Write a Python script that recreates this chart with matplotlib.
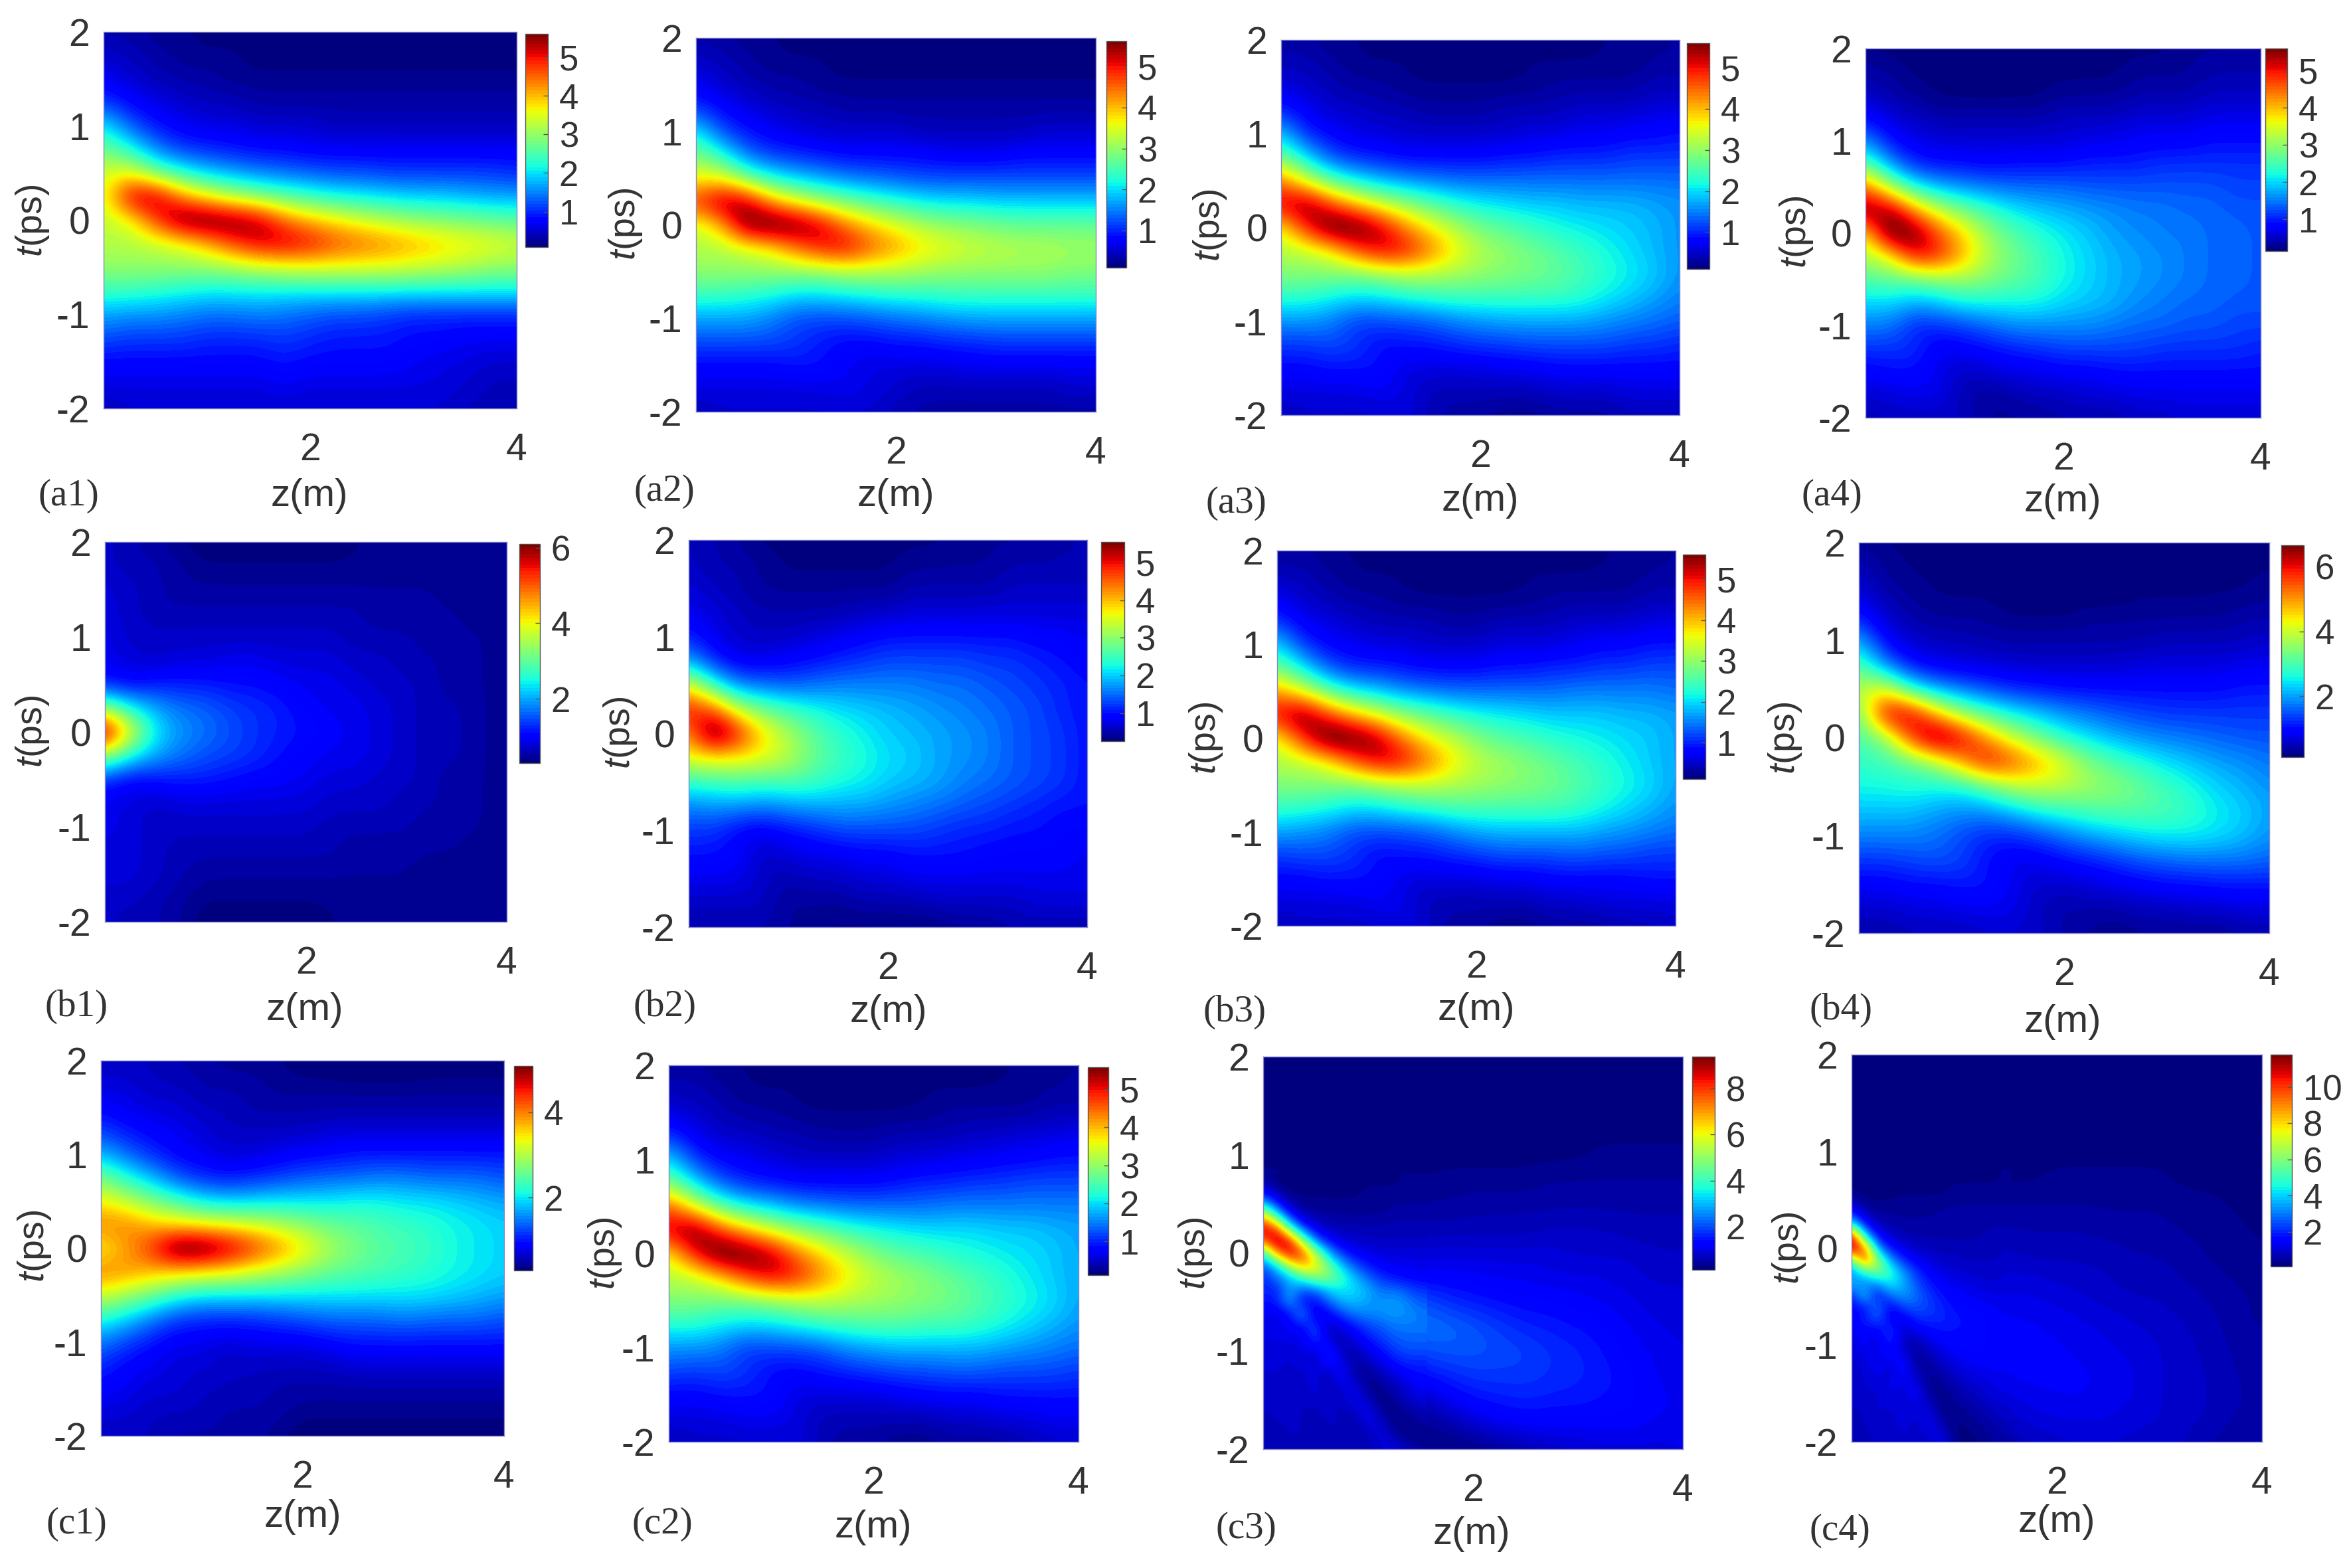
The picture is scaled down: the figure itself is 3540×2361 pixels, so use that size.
import numpy as np
import matplotlib
matplotlib.use("agg")
import matplotlib.pyplot as plt
from matplotlib.cm import ScalarMappable
from matplotlib.colors import Normalize

plt.rcParams['font.family'] = 'Liberation Sans'
plt.rcParams['mathtext.fontset'] = 'custom'
plt.rcParams['mathtext.it'] = 'Liberation Sans:italic'
plt.rcParams['mathtext.rm'] = 'Liberation Sans'
plt.rcParams['text.color'] = '#333333'
plt.rcParams['axes.unicode_minus'] = False

W, H = 3540, 2361

# every panel: rows t = 2 ... -2, columns z = 0 ... 4, both in steps of 0.25
a1 = [[.3,.3,.2,.2,.1,.1,.1,.1,.1,.1,.1,.1,.1,.1,.1,.1,.1],
      [.5,.4,.3,.2,.2,.2,.1,.1,.1,.1,.1,.1,.1,.1,.1,.1,.1],
      [.7,.5,.4,.3,.3,.2,.2,.2,.2,.2,.2,.2,.2,.2,.2,.2,.2],
      [1.1,.8,.6,.5,.4,.4,.3,.3,.3,.3,.3,.3,.3,.3,.3,.3,.3],
      [2.1,1.3,.9,.7,.6,.6,.5,.5,.5,.4,.4,.4,.4,.4,.4,.4,.4],
      [2.8,2.3,1.5,1.1,1,.9,.8,.8,.7,.7,.7,.7,.7,.7,.7,.7,.7],
      [3.4,3.6,2.8,2.3,1.9,1.7,1.5,1.4,1.3,1.2,1.2,1.1,1.1,1.1,1.1,1.1,1],
      [3.4,5.3,5.5,4.3,3.7,3.2,2.9,2.6,2.4,2.2,2.1,2,1.9,1.9,1.8,1.7,1.7],
      [3.3,3.5,4.7,5.8,5.9,5.7,5.4,4.5,4,3.7,3.4,3.2,3,2.9,2.8,2.7,2.6],
      [3.2,3.2,3.3,3.5,4,4.7,5.2,5.3,5.1,4.7,4.5,4.3,4.1,3.9,3.7,3.6,3.4],
      [3,3,3,3,3,3.1,3.3,3.4,3.5,3.5,3.5,3.5,3.4,3.3,3.2,3,3],
      [2.4,2.4,2.3,2.2,2.1,2.1,2.1,2.1,2.1,2.1,2.1,2.1,2.1,2.1,2.1,2.1,2.1],
      [1.7,1.6,1.6,1.5,1.4,1.4,1.5,1.4,1.3,1.2,1.2,1.1,1,1,1,1,1],
      [1.2,1.1,1.1,1.1,1,1,1,1.1,1,.9,.9,.9,.8,.8,.7,.7,.7],
      [.8,.8,.8,.8,.8,.8,.8,.9,.8,.8,.8,.8,.7,.6,.6,.5,.5],
      [.6,.6,.6,.6,.6,.6,.6,.7,.6,.6,.6,.6,.6,.6,.5,.4,.4],
      [.4,.5,.5,.5,.5,.5,.5,.5,.5,.5,.5,.5,.5,.5,.4,.4,.3]]
a2 = [[.3,.3,.2,.2,.1,.1,.1,.1,.1,.1,.1,.1,.1,.1,.1,.1,.1],
      [.5,.4,.3,.2,.2,.2,.1,.1,.1,.1,.1,.1,.1,.1,.1,.1,.1],
      [.7,.5,.4,.3,.3,.2,.2,.2,.2,.2,.2,.2,.2,.2,.2,.2,.2],
      [1.1,.8,.6,.5,.4,.4,.3,.3,.3,.3,.3,.3,.3,.3,.3,.3,.3],
      [2.1,1.2,.9,.7,.6,.5,.5,.5,.5,.4,.4,.4,.4,.4,.5,.5,.5],
      [2.9,2.3,1.4,1.1,1,.9,.8,.8,.8,.8,.7,.7,.7,.8,.8,.8,.8],
      [3.6,3.6,2.8,2.2,1.9,1.7,1.5,1.4,1.3,1.2,1.2,1.2,1.2,1.2,1.2,1.2,1.2],
      [4.8,5.6,5.4,4.2,3.6,3.1,2.8,2.5,2.3,2.1,2,2,1.9,1.9,1.9,1.9,1.9],
      [3.4,4,5.8,6,5.8,5.3,4.4,3.9,3.5,3.2,3,2.9,2.8,2.7,2.7,2.7,2.7],
      [3.2,3.2,3.4,3.7,4.4,5,5.2,4.6,4.2,3.8,3.6,3.4,3.3,3.2,3.2,3.1,3.1],
      [3,3,3,3,3,3,3.2,3.2,3.2,3.1,3,3,3,3,3,2.9,2.9],
      [2.4,2.4,2.3,2.2,2,2,2.1,2.2,2.3,2.3,2.4,2.4,2.4,2.4,2.4,2.4,2.4],
      [1.7,1.7,1.7,1.5,1.2,1.2,1.2,1.3,1.4,1.5,1.6,1.7,1.7,1.7,1.7,1.7,1.7],
      [1.2,1.2,1.2,1.2,1.1,.9,.8,.8,.9,.9,1,1,1.1,1.1,1.1,1.1,1.1],
      [.8,.8,.8,.8,.9,.9,.7,.6,.6,.6,.6,.7,.7,.7,.7,.7,.7],
      [.6,.6,.6,.6,.6,.6,.7,.6,.5,.4,.4,.4,.4,.4,.4,.5,.5],
      [.4,.5,.5,.5,.5,.5,.5,.5,.4,.3,.3,.3,.3,.3,.3,.3,.3]]
a3 = [[.3,.3,.2,.2,.1,.1,.1,.1,.1,.1,.1,.1,.1,.2,.2,.2,.3],
      [.4,.4,.3,.2,.2,.2,.1,.1,.1,.1,.2,.2,.2,.2,.2,.3,.3],
      [.6,.5,.4,.3,.3,.2,.2,.2,.2,.2,.2,.3,.3,.3,.3,.4,.4],
      [1,.7,.5,.5,.4,.4,.3,.3,.3,.4,.4,.4,.5,.5,.5,.6,.6],
      [1.9,1,.8,.6,.6,.5,.5,.5,.5,.5,.6,.6,.7,.7,.8,.8,.9],
      [2.8,2,1.2,1,.9,.8,.8,.8,.8,.9,.9,1,1,1,1.1,1.1,1.1],
      [4.4,3.4,2.6,2.1,1.8,1.6,1.5,1.4,1.4,1.4,1.4,1.4,1.4,1.4,1.4,1.4,1.4],
      [5.2,5.7,4.7,4,3.4,3,2.6,2.3,2.1,2,1.9,1.9,1.8,1.8,1.8,1.7,1.6],
      [3.6,4.9,6,5.9,5.3,4.3,3.7,3.2,2.8,2.6,2.4,2.2,2.1,2,1.9,1.8,1.6],
      [3.2,3.3,3.6,4.6,5.2,5.1,4.4,3.7,3.2,3,2.8,2.6,2.4,2.2,2,1.8,1.6],
      [2.9,2.9,2.9,2.8,3,3.2,3.2,3.1,3,2.9,2.8,2.7,2.5,2.3,2.1,1.9,1.6],
      [2.3,2.3,2.1,2,2,2.2,2.3,2.4,2.4,2.4,2.4,2.4,2.3,2.1,1.9,1.7,1.5],
      [1.6,1.6,1.5,1.1,1.2,1.2,1.3,1.5,1.6,1.7,1.7,1.7,1.7,1.6,1.5,1.4,1.3],
      [1.1,1.1,1.2,1.1,.8,.9,.9,1,1.1,1.1,1.2,1.2,1.2,1.2,1.1,1.1,1],
      [.8,.8,.9,.9,.9,.6,.6,.6,.6,.7,.7,.8,.8,.8,.8,.8,.8],
      [.6,.6,.6,.6,.7,.6,.4,.4,.4,.4,.4,.5,.5,.5,.6,.6,.6],
      [.4,.5,.5,.5,.5,.6,.4,.3,.3,.2,.2,.3,.3,.3,.4,.4,.4]]
a4 = [[.2,.2,.2,.1,.1,.1,.1,.1,.1,.2,.2,.2,.2,.3,.3,.3,.3],
      [.4,.3,.2,.2,.1,.1,.1,.2,.2,.2,.2,.3,.3,.3,.4,.4,.4],
      [.5,.4,.3,.2,.2,.2,.2,.2,.3,.3,.3,.4,.4,.4,.5,.5,.5],
      [.9,.6,.5,.4,.4,.4,.4,.4,.5,.5,.5,.6,.6,.6,.7,.7,.7],
      [1.6,.9,.7,.6,.6,.6,.6,.6,.6,.7,.7,.8,.8,.8,.9,.9,.9],
      [2.7,1.6,1,.9,.9,.8,.9,.9,.9,1,1,1,1.1,1.1,1.1,1.1,1.1],
      [4.5,3.2,2.2,1.8,1.6,1.5,1.4,1.4,1.4,1.3,1.3,1.3,1.3,1.3,1.3,1.2,1.2],
      [5.6,5.5,4.2,3.3,2.8,2.4,2.1,1.9,1.8,1.7,1.6,1.5,1.5,1.4,1.4,1.3,1.3],
      [3.7,6,5.7,4.6,3.8,3,2.6,2.3,2.1,1.9,1.7,1.6,1.5,1.5,1.4,1.4,1.3],
      [3.2,3.6,5.1,4.9,4,3.2,2.8,2.5,2.2,2,1.8,1.7,1.6,1.5,1.4,1.4,1.3],
      [2.6,2.7,2.7,3,3.1,2.9,2.7,2.5,2.2,2,1.8,1.7,1.6,1.5,1.4,1.4,1.3],
      [2,2,1.8,1.9,2.2,2.2,2.2,2.2,2,1.9,1.8,1.6,1.5,1.4,1.4,1.3,1.3],
      [1.5,1.5,1,1.1,1.2,1.4,1.6,1.6,1.6,1.6,1.5,1.4,1.4,1.3,1.3,1.2,1.2],
      [1.1,1.1,1.1,.7,.8,.9,1,1.1,1.2,1.2,1.2,1.2,1.1,1.1,1.1,1.1,1],
      [.8,.9,.9,.7,.5,.6,.7,.7,.8,.8,.9,.9,.9,.9,.9,.9,.9],
      [.6,.6,.7,.7,.4,.3,.4,.5,.5,.6,.6,.7,.7,.7,.7,.7,.7],
      [.4,.5,.5,.5,.5,.3,.3,.3,.4,.4,.4,.5,.5,.6,.6,.6,.6]]
b1 = [[.7,.6,.5,.4,.3,.3,.3,.3,.3,.3,.4,.4,.4,.4,.4,.4,.4],
      [.7,.6,.6,.5,.4,.4,.4,.4,.4,.4,.4,.4,.4,.4,.4,.4,.4],
      [.8,.7,.6,.5,.5,.5,.5,.5,.5,.5,.5,.5,.5,.5,.4,.4,.4],
      [.8,.7,.6,.6,.6,.6,.6,.6,.6,.6,.6,.5,.5,.5,.5,.4,.4],
      [.9,.7,.7,.7,.7,.7,.7,.7,.7,.7,.6,.6,.6,.5,.5,.5,.4],
      [.9,.8,.7,.8,.8,.9,.9,.8,.8,.8,.7,.7,.6,.6,.5,.5,.4],
      [1.2,1,1.2,1.2,1.2,1.1,1.1,1,.9,.9,.8,.7,.7,.6,.5,.5,.4],
      [3.4,2.5,2,1.7,1.6,1.4,1.3,1.2,1,.9,.9,.8,.7,.6,.6,.5,.4],
      [6.1,4,2.4,1.9,1.7,1.5,1.3,1.2,1.1,1,.9,.8,.7,.6,.6,.5,.4],
      [3.4,2.5,2,1.7,1.5,1.4,1.3,1.1,1,.9,.9,.8,.7,.6,.6,.5,.4],
      [1.3,1,1.1,1.2,1.2,1.1,1,1,.9,.8,.8,.7,.7,.6,.5,.5,.4],
      [.9,.8,.7,.8,.8,.8,.8,.8,.8,.7,.7,.7,.6,.6,.5,.5,.4],
      [.9,.8,.7,.7,.7,.7,.7,.7,.7,.6,.6,.6,.6,.5,.5,.5,.4],
      [.8,.8,.7,.6,.6,.6,.6,.6,.6,.6,.5,.5,.5,.5,.5,.4,.4],
      [.8,.8,.7,.6,.5,.5,.5,.5,.5,.5,.5,.5,.5,.4,.4,.4,.4],
      [.7,.7,.6,.5,.4,.4,.4,.4,.4,.4,.4,.4,.4,.4,.4,.4,.4],
      [.7,.6,.6,.5,.3,.3,.3,.3,.3,.4,.4,.4,.4,.4,.4,.4,.4]]
b2 = [[.6,.5,.4,.3,.3,.3,.3,.3,.3,.3,.3,.4,.4,.4,.4,.5,.5],
      [.6,.5,.5,.4,.3,.3,.3,.3,.3,.4,.4,.4,.4,.5,.5,.5,.5],
      [.7,.6,.5,.4,.4,.4,.4,.4,.4,.5,.5,.5,.5,.6,.6,.6,.6],
      [.8,.7,.6,.5,.5,.5,.5,.6,.6,.7,.7,.7,.7,.7,.7,.7,.7],
      [1.1,.8,.6,.6,.6,.7,.8,.9,1,1,1,1,1,1,.9,.9,.8],
      [1.8,1.1,.8,.8,.9,1,1.1,1.2,1.3,1.3,1.3,1.3,1.2,1.2,1.1,1,.9],
      [3.6,2.4,1.6,1.5,1.4,1.5,1.6,1.6,1.6,1.6,1.5,1.5,1.4,1.3,1.2,1.1,1],
      [5,4.6,3.3,2.8,2.5,2.3,2.1,2,1.9,1.8,1.7,1.6,1.5,1.4,1.3,1.1,1],
      [4.2,6,5,3.8,3.2,2.7,2.4,2.2,2,1.9,1.8,1.7,1.6,1.4,1.3,1.2,1],
      [3.6,3.7,3.7,3.6,3.3,2.8,2.5,2.3,2.1,2,1.8,1.7,1.6,1.4,1.3,1.2,1],
      [2.4,2.5,2.6,2.5,2.6,2.5,2.3,2.2,2,1.9,1.8,1.6,1.5,1.4,1.3,1.2,1],
      [1.6,1.7,1.7,1.6,1.7,1.8,1.8,1.8,1.7,1.6,1.5,1.4,1.3,1.2,1.1,1,1],
      [1.2,1.2,.9,.8,1,1.1,1.3,1.3,1.3,1.3,1.2,1.1,1.1,1,1,.9,.9],
      [1,1,.9,.6,.7,.8,.8,.9,.9,1,1,1,.9,.9,.9,.9,.8],
      [.8,.8,.8,.6,.5,.6,.6,.7,.7,.8,.8,.8,.8,.8,.8,.8,.8],
      [.6,.6,.6,.6,.4,.4,.4,.5,.5,.5,.6,.6,.6,.6,.7,.7,.7],
      [.5,.5,.5,.5,.4,.4,.3,.3,.3,.3,.3,.4,.4,.5,.5,.5,.5]]
b3 = [[.3,.3,.2,.2,.1,.1,.1,.1,.1,.1,.1,.1,.1,.2,.2,.2,.3],
      [.4,.4,.3,.2,.2,.2,.1,.1,.1,.1,.2,.2,.2,.2,.2,.3,.3],
      [.7,.5,.4,.3,.3,.2,.2,.2,.2,.2,.2,.3,.3,.3,.3,.4,.4],
      [1.1,.7,.6,.5,.4,.4,.4,.3,.3,.4,.4,.4,.5,.5,.5,.6,.6],
      [2,1.1,.8,.7,.6,.6,.5,.5,.5,.6,.6,.6,.7,.8,.8,.9,.9],
      [2.8,2.1,1.3,1,1,.9,.8,.8,.8,.9,.9,1,1,1.1,1.1,1.2,1.2],
      [4.2,3.5,2.7,2.1,1.9,1.6,1.5,1.4,1.4,1.4,1.4,1.4,1.5,1.5,1.5,1.5,1.4],
      [5.1,5.8,4.8,4.1,3.5,3,2.7,2.4,2.2,2.1,2,1.9,1.9,1.9,1.8,1.8,1.7],
      [3.5,4.8,6,5.9,5.5,4.4,3.7,3.3,2.9,2.6,2.5,2.3,2.2,2.1,2,1.9,1.7],
      [3.2,3.3,3.6,4.5,5.2,5.2,4.5,3.8,3.3,3.1,2.9,2.7,2.5,2.3,2.1,1.9,1.7],
      [2.9,2.9,2.9,2.8,3,3.2,3.3,3.2,3.1,3,2.9,2.8,2.6,2.4,2.2,2,1.7],
      [2.4,2.3,2.2,2,2,2.2,2.3,2.5,2.5,2.5,2.5,2.5,2.4,2.2,2,1.8,1.6],
      [1.7,1.6,1.5,1.2,1.2,1.2,1.3,1.5,1.7,1.8,1.8,1.8,1.8,1.7,1.6,1.5,1.4],
      [1.1,1.2,1.2,1.1,.8,.9,.9,1,1.1,1.2,1.2,1.2,1.3,1.2,1.2,1.1,1.1],
      [.8,.8,.9,.9,.9,.6,.6,.6,.6,.7,.7,.8,.8,.8,.8,.9,.9],
      [.6,.6,.6,.6,.7,.7,.4,.4,.4,.4,.4,.5,.5,.6,.6,.6,.6],
      [.4,.5,.5,.5,.5,.6,.5,.3,.3,.2,.2,.3,.3,.3,.4,.4,.5]]
b4 = [[.3,.2,.2,.1,.1,.1,.1,.1,.1,.1,.1,.1,.1,.1,.1,.2,.2],
      [.5,.3,.2,.2,.1,.1,.1,.1,.1,.1,.1,.1,.1,.1,.2,.2,.2],
      [.7,.4,.3,.2,.2,.2,.1,.1,.1,.1,.1,.2,.2,.2,.2,.2,.3],
      [1.1,.6,.4,.3,.3,.3,.2,.2,.2,.3,.3,.3,.3,.3,.3,.4,.4],
      [2.1,.9,.6,.5,.5,.4,.4,.4,.4,.4,.4,.4,.5,.5,.5,.5,.6],
      [3.1,1.8,1,.8,.7,.7,.6,.6,.6,.6,.6,.7,.7,.7,.7,.8,.8],
      [3.9,4.3,2.7,2,1.7,1.4,1.2,1.1,1,1,1,1,1,1,1,1.1,1.1],
      [3.2,6.3,6.4,4.8,3.6,3,2.5,2.2,1.9,1.7,1.5,1.4,1.3,1.3,1.3,1.3,1.3],
      [3,3.4,5.6,7,6.3,5,4,3.3,2.7,2.4,2.1,1.9,1.8,1.7,1.6,1.5,1.5],
      [2.8,2.9,3.1,3.7,4.9,6.1,5.6,4.9,4.2,3.4,3,2.7,2.4,2.2,2,1.9,1.7],
      [2.6,2.6,2.7,2.6,2.6,3.1,3.8,4,3.9,3.7,3.5,3.2,2.9,2.6,2.3,2.1,1.9],
      [2.2,2.2,2.2,2,1.9,1.9,2.2,2.6,2.8,3,3.1,3.1,3,2.8,2.5,2.3,2],
      [1.8,1.8,1.8,1.7,1.4,1.2,1.2,1.4,1.7,2,2.2,2.4,2.5,2.5,2.4,2.2,1.9],
      [1.3,1.3,1.4,1.5,1.4,1,.8,.8,1,1.1,1.3,1.5,1.6,1.7,1.7,1.7,1.6],
      [.9,.9,1,1,1.1,1.1,.8,.6,.6,.7,.8,.9,1,1,1.1,1.1,1.1],
      [.6,.6,.7,.7,.8,.8,.8,.5,.4,.4,.4,.5,.5,.6,.6,.7,.7],
      [.4,.4,.5,.5,.5,.6,.6,.6,.4,.3,.2,.3,.3,.3,.3,.4,.4]]
c1 = [[.6,.6,.6,.5,.5,.4,.4,.4,.3,.3,.2,.2,.2,.3,.3,.3,.3],
      [.7,.7,.6,.6,.5,.5,.5,.4,.4,.4,.4,.4,.4,.4,.4,.4,.4],
      [.9,.8,.7,.7,.6,.6,.5,.5,.5,.5,.5,.5,.5,.5,.5,.5,.5],
      [1.2,1,.9,.8,.7,.6,.6,.6,.6,.7,.7,.7,.7,.7,.7,.7,.7],
      [1.8,1.4,1.1,.9,.8,.7,.7,.8,.9,.9,1,1,1,1,1,1,1],
      [2.7,2.2,1.8,1.3,1.1,1,1.1,1.2,1.3,1.4,1.4,1.5,1.5,1.4,1.4,1.4,1.3],
      [3.4,3.1,2.7,2.4,2,1.9,1.9,2,2,2,2.1,2.1,2,2,1.9,1.8,1.7],
      [4,4,3.7,3.5,3.4,3.3,3.2,3,2.8,2.6,2.5,2.4,2.3,2.2,2.1,2,1.9],
      [3.3,3.8,4.4,5.4,5.4,5,4.5,4,3.5,3,2.7,2.5,2.4,2.3,2.1,2,1.9],
      [4,3.9,3.7,3.6,3.5,3.4,3.2,3,2.8,2.6,2.5,2.4,2.3,2.2,2.1,2,1.9],
      [3.2,2.9,2.6,2.2,2,2,2,2,2,2,2,2,2,2,1.9,1.8,1.7],
      [2.2,1.9,1.5,1.2,1.1,1.1,1.1,1.2,1.3,1.4,1.4,1.4,1.5,1.4,1.4,1.4,1.3],
      [1.5,1.2,1,.8,.8,.7,.8,.8,.8,.9,1,1,1,1,1,1,1],
      [1.1,.9,.8,.7,.7,.6,.6,.6,.6,.6,.7,.7,.7,.7,.7,.7,.7],
      [.9,.8,.7,.7,.6,.6,.6,.5,.5,.5,.5,.5,.5,.5,.5,.5,.5],
      [.7,.7,.6,.6,.6,.5,.5,.5,.4,.4,.4,.4,.4,.4,.4,.4,.4],
      [.6,.6,.6,.5,.5,.5,.5,.4,.3,.3,.3,.3,.3,.3,.3,.3,.3]]
c2 = [[.3,.3,.2,.2,.1,.1,.1,.1,.1,.1,.1,.1,.1,.2,.2,.2,.3],
      [.4,.4,.3,.2,.2,.2,.1,.1,.1,.1,.2,.2,.2,.2,.2,.3,.3],
      [.6,.5,.4,.3,.3,.2,.2,.2,.2,.2,.2,.3,.3,.3,.3,.4,.4],
      [1.1,.7,.5,.5,.4,.4,.3,.3,.3,.4,.4,.4,.5,.5,.6,.6,.7],
      [2,1.1,.8,.7,.6,.5,.5,.5,.5,.6,.6,.7,.7,.8,.8,.9,.9],
      [2.9,2,1.3,1,.9,.8,.8,.8,.8,.9,1,1,1.1,1.1,1.2,1.2,1.2],
      [4.6,3.5,2.6,2.1,1.9,1.6,1.5,1.4,1.4,1.4,1.4,1.5,1.5,1.5,1.5,1.5,1.5],
      [5.2,5.8,4.7,4,3.4,3,2.7,2.4,2.2,2.1,2,2,2,1.9,1.9,1.8,1.7],
      [3.6,5,6,5.8,5.4,4.4,3.8,3.3,2.9,2.6,2.5,2.3,2.2,2.1,2,1.9,1.7],
      [3.2,3.3,3.8,4.7,5.2,5,4.3,3.7,3.3,3.1,2.9,2.7,2.5,2.3,2.1,1.9,1.7],
      [2.9,2.9,2.8,2.8,3,3.2,3.3,3.2,3.1,3,2.9,2.8,2.6,2.4,2.2,2,1.7],
      [2.3,2.3,2.1,2,2,2.2,2.4,2.5,2.6,2.6,2.5,2.5,2.4,2.2,2,1.8,1.6],
      [1.6,1.6,1.5,1.1,1.2,1.2,1.3,1.6,1.7,1.8,1.8,1.8,1.8,1.7,1.6,1.5,1.4],
      [1.2,1.1,1.2,1.1,.8,.8,.9,1,1.1,1.2,1.2,1.3,1.3,1.2,1.2,1.2,1.1],
      [.8,.8,.9,.9,.9,.6,.6,.6,.6,.7,.8,.8,.8,.9,.9,.9,.9],
      [.6,.6,.6,.7,.7,.6,.4,.4,.4,.4,.4,.5,.5,.6,.6,.7,.7],
      [.4,.5,.5,.5,.5,.6,.4,.3,.3,.2,.2,.3,.3,.3,.4,.5,.5]]
c3 = [[.1,.1,.1,.1,.1,.1,.1,.1,.1,.1,.1,.1,.1,.1,.1,.1,.1],
      [.1,.1,.1,.1,.1,.1,.1,.1,.1,.1,.1,.1,.1,.1,.1,.1,.1],
      [.1,.1,.1,.1,.1,.1,.1,.1,.1,.1,.1,.1,.1,.1,.1,.1,.1],
      [.1,.1,.1,.1,.1,.1,.1,.1,.1,.1,.1,.1,.2,.2,.2,.2,.2],
      [.1,.1,.1,.1,.1,.1,.1,.2,.2,.2,.2,.2,.2,.3,.3,.3,.3],
      [.4,.1,.2,.2,.2,.2,.3,.3,.3,.3,.3,.4,.4,.4,.4,.4,.4],
      [3.2,.6,.3,.3,.3,.4,.4,.4,.5,.5,.5,.5,.5,.5,.5,.5,.5],
      [8.8,4.3,1,.6,.6,.6,.6,.6,.6,.6,.6,.7,.7,.7,.6,.6,.6],
      [3.8,8.8,5.2,1.7,1,.9,.9,.9,.9,.9,.9,.9,.8,.8,.8,.7,.7],
      [1.6,3,5,4,2.2,1.4,1.2,1.2,1.2,1.1,1.1,1,1,1,.9,.8,.8],
      [1.4,2.8,1.3,2.9,2.8,2,2.1,1.7,1.5,1.4,1.3,1.3,1.2,1.1,1,.9,.9],
      [1,1.2,1.9,1,1.9,2.1,2.4,2.3,2.1,1.8,1.6,1.5,1.4,1.3,1.1,1,.9],
      [.9,.8,.8,.6,1,1.7,2,2.1,2.1,2,1.9,1.7,1.6,1.4,1.2,1.1,1],
      [.8,.8,.9,1.4,.3,.9,1.4,1.6,1.8,1.8,1.8,1.7,1.6,1.5,1.3,1.1,1],
      [.7,.7,.8,.7,.7,.4,.6,1.1,1.4,1.5,1.6,1.5,1.5,1.4,1.3,1.2,1.1],
      [.6,.7,.6,.7,.9,.2,.3,.4,.8,1.1,1.2,1.2,1.2,1.2,1.2,1.1,1],
      [.6,.6,.6,.7,.6,1,.4,.2,.2,.3,.5,.7,.8,.9,.9,.9,1]]
# finer detail near the origin of c3 and c4: rows t = .75 ... -2, columns z = 0 ... 1.5, steps 0.125
c3_near = [[.4,.2,.1,.1,.2,.2,.2,.2,.2,.2,.2,.3,.3],
           [1.2,.5,.2,.2,.2,.2,.2,.2,.3,.3,.3,.3,.3],
           [3.2,1.6,.6,.3,.3,.3,.3,.3,.3,.3,.4,.4,.4],
           [6.5,4,1.7,.7,.5,.4,.4,.4,.4,.4,.5,.5,.5],
           [8.8,7.8,4.3,2,1,.7,.6,.6,.6,.6,.6,.6,.6],
           [7.5,9.3,8.3,5,2.4,1.3,.9,.8,.7,.7,.7,.7,.7],
           [3.8,7,8.8,7.8,5.2,2.9,1.7,1.2,1,.9,.9,.9,.9],
           [2.2,3.3,5.5,7,6.2,4.6,3,2,1.5,1.2,1.1,1.1,1],
           [1.6,2.3,3,4.1,5,4.9,4,3,2.2,1.7,1.4,1.3,1.2],
           [1.7,1.5,2.9,2.1,2.4,3.2,3.5,3.3,2.9,2.3,2.3,2,1.7],
           [1.4,1.5,2.8,1.4,1.3,2.2,2.9,3,2.8,2.6,2.8,2.5,2.1],
           [1.2,.9,1.4,2.6,.9,1.2,1.9,2.4,2.5,2.6,2.7,2.6,2.4],
           [1,1,1.2,1.4,1.9,.7,1,1.5,1.9,2.1,2.4,2.4,2.4],
           [1,1,1.1,.9,2,.8,.6,1,1.5,1.8,2.1,2.2,2.2],
           [.9,.9,.8,1.1,.8,1.8,.6,.6,1,1.4,1.8,2,2],
           [.9,.9,.8,.9,.8,1.4,1.1,.4,.6,1,1.4,1.6,1.6],
           [.8,.8,.8,.8,.9,.6,1.4,.5,.3,.6,.9,1.2,1.4],
           [.8,.8,.7,.7,1,.6,.9,1.1,.3,.3,.6,.9,1.2],
           [.7,.7,.7,.7,.8,.7,.7,1.1,.7,.2,.4,.7,.9],
           [.7,.7,.7,.7,.6,.8,.6,.7,1.2,.4,.2,.4,.6],
           [.6,.7,.7,.7,.6,.7,.7,.5,.9,.9,.2,.2,.4],
           [.6,.6,.7,.7,.6,.6,.7,.6,.6,1,.6,.3,.3],
           [.6,.6,.6,.6,.6,.6,.7,.6,.6,.8,1,.6,.4]]
c4 = [[.1,.1,.1,.1,.1,.1,.1,.1,.1,.1,.1,.1,.1,.1,.1,.1,.1],
      [.1,.1,.1,.1,.1,.1,.1,.1,.1,.1,.1,.1,.1,.1,.1,.1,.1],
      [.1,.1,.1,.1,.1,.1,.1,.1,.1,.1,.1,.1,.1,.1,.1,.1,.1],
      [.1,.1,.1,.1,.1,.1,.1,.1,.1,.1,.1,.1,.1,.1,.1,.1,.1],
      [.1,.1,.1,.1,.1,.1,.1,.2,.2,.2,.2,.2,.2,.1,.1,.1,.1],
      [.1,.1,.1,.1,.2,.2,.2,.2,.3,.3,.3,.3,.3,.2,.2,.2,.1],
      [.6,.2,.3,.3,.4,.4,.4,.4,.4,.4,.4,.4,.4,.3,.3,.2,.2],
      [4.5,.8,.5,.5,.5,.6,.6,.6,.6,.6,.5,.5,.5,.4,.4,.3,.2],
      [11.5,3.5,1.2,.8,.7,.7,.8,.7,.7,.7,.7,.6,.6,.5,.4,.3,.3],
      [3,6,3.4,1.5,1,.9,1,1,.9,.9,.8,.7,.7,.6,.5,.4,.3],
      [1.8,1.6,3.3,2.2,1.5,1.3,1.2,1.2,1.1,1,.9,.8,.8,.7,.6,.5,.4],
      [1.6,2.4,1.1,2,1.8,1.6,1.4,1.4,1.3,1.2,1.1,1,.9,.8,.7,.5,.4],
      [1,1,.8,1,1.6,1.6,1.4,1.4,1.4,1.3,1.2,1.1,1,.9,.7,.6,.5],
      [.9,1.4,1.8,.4,1,1.3,1.4,1.5,1.4,1.4,1.3,1.2,1,.9,.8,.6,.5],
      [.8,.9,.9,.4,.5,.9,1.2,1.3,1.4,1.4,1.3,1.2,1,.9,.8,.7,.5],
      [.7,1,1.2,1.4,.2,.5,.9,1.1,1.2,1.2,1.2,1.1,1,.9,.8,.6,.5],
      [.7,.8,.8,.8,.4,.3,.6,.8,.9,1,1,.9,.9,.8,.6,.5,.5]]
c4_near = [[.1,.1,.1,.1,.1,.1,.1,.2,.2,.2,.2,.2,.3],
           [.2,.1,.1,.1,.2,.2,.2,.2,.3,.3,.3,.3,.3],
           [.6,.3,.2,.3,.3,.3,.3,.3,.4,.4,.4,.4,.4],
           [1.8,.7,.4,.4,.4,.4,.4,.5,.5,.5,.5,.5,.5],
           [4.5,1.8,.8,.6,.5,.5,.5,.5,.5,.5,.6,.6,.6],
           [11,4.5,1.7,1,.7,.6,.6,.6,.6,.6,.6,.7,.7],
           [11.5,9.5,3.5,1.8,1.2,.9,.8,.7,.7,.7,.7,.7,.8],
           [5,10,6.5,3.5,2.1,1.4,1.1,.9,.9,.8,.8,.8,.9],
           [3,4.5,6,5,3.4,2.2,1.5,1.2,1,1,.9,.9,1],
           [3.8,3,3,4.3,3.7,2.6,1.9,1.5,1.3,1.2,1.1,1,1.1],
           [1.8,4,1.6,2.7,3.3,2.9,2.2,1.8,1.5,1.4,1.3,1.2,1.2],
           [1.6,1.5,3.2,1.2,2.2,2.5,2.3,2,1.7,1.6,1.5,1.4,1.3],
           [1.6,1.9,2.4,1.6,1.1,1.9,2,2,1.8,1.7,1.6,1.5,1.4],
           [1.2,1.5,1.2,2.4,.9,1.1,1.5,1.7,1.7,1.7,1.6,1.5,1.4],
           [1,1.6,1,2,.8,.5,1,1.4,1.6,1.6,1.6,1.5,1.4],
           [1,1.1,1.4,1.4,1.5,.4,.6,1,1.3,1.5,1.5,1.5,1.4],
           [.9,1,1.4,.9,1.8,.6,.4,.7,1,1.2,1.3,1.4,1.4],
           [.8,1,1.1,1.2,1.3,1.2,.3,.4,.7,1,1.1,1.2,1.3],
           [.8,1,.9,1.3,.9,1.6,.4,.3,.5,.7,.9,1.1,1.2],
           [.8,.9,1,1.1,1,1.2,1,.2,.4,.5,.7,.9,1],
           [.7,.8,1,.8,1.2,.9,1.4,.4,.2,.4,.5,.7,.9],
           [.7,.8,.9,.9,1.1,.8,1.2,1,.2,.2,.4,.5,.7],
           [.7,.7,.8,1,.8,1,.8,1.3,.4,.1,.3,.4,.6]]

names = ['a1', 'a2', 'a3', 'a4', 'b1', 'b2', 'b3', 'b4', 'c1', 'c2', 'c3', 'c4']
grids = [a1, a2, a3, a4, b1, b2, b3, b4, c1, c2, c3, c4]
near_grids = {'c3': c3_near, 'c4': c4_near}
c_min = [.08, .09, .1, .15, .3, .25, .11, .12, .3, .11, .11, .08]
c_max = [5.6, 5.62, 5.6, 5.59, 6.1, 5.55, 5.6, 6.66, 5.08, 5.58, 9.4, 11.8]
c_ticks = [[1, 2, 3, 4, 5], [1, 2, 3, 4, 5], [1, 2, 3, 4, 5], [1, 2, 3, 4, 5],
           [2, 4, 6], [1, 2, 3, 4, 5], [1, 2, 3, 4, 5], [2, 4, 6],
           [2, 4], [1, 2, 3, 4, 5], [2, 4, 6, 8], [2, 4, 6, 8, 10]]

# pixel boxes: left, right, top, bottom
ax_boxes = [(156, 778, 48, 615), (1048, 1650, 57, 620), (1929, 2529, 60, 625), (2809, 3404, 73, 629),
            (158, 763, 816, 1388), (1037, 1637, 813, 1396), (1923, 2523, 829, 1394), (2799, 3417, 817, 1405),
            (152, 759, 1597, 2162), (1007, 1624, 1604, 2171), (1902, 2534, 1591, 2182), (2788, 3406, 1588, 2171)]
cb_boxes = [(791, 825, 51, 372), (1666, 1696, 62, 403), (2540, 2574, 65, 405), (3411, 3444, 73, 378),
            (782, 813, 819, 1149), (1658, 1693, 816, 1116), (2534, 2568, 835, 1173), (3435, 3469, 821, 1140),
            (774, 802, 1605, 1913), (1638, 1669, 1607, 1920), (2548, 2582, 1591, 1912), (3419, 3451, 1588, 1907)]
# pixel centres of z(m), panel tag and t(ps)
z_pos = [(466, 747), (1349, 747), (2229, 754), (3106, 755), (459, 1521), (1338, 1524),
         (2223, 1521), (3106, 1539), (456, 2284), (1315, 2300), (2216, 2310), (3097, 2292)]
tag_pos = [(103, 747), (1000, 740), (1861, 758), (2758, 747), (115, 1516), (1001, 1516),
           (1859, 1524), (2772, 1521), (115, 2295), (997, 2295), (1876, 2302), (2770, 2305)]
t_pos = [(49, 332), (942, 337), (1822, 339), (2705, 349), (49, 1101), (934, 1103),
         (1816, 1111), (2688, 1111), (52, 1876), (911, 1887), (1800, 1887), (2694, 1879)]

jet64 = plt.get_cmap('jet', 64)


def px_axes(fig, box):
    left, right, top, bottom = box
    return fig.add_axes([left / W, 1 - bottom / H, (right - left) / W, (bottom - top) / H])


fig = plt.figure(figsize=(W / 100, H / 100), dpi=100)

for i, name in enumerate(names):
    ax = px_axes(fig, ax_boxes[i])
    ax.imshow(np.array(grids[i]), cmap=jet64, vmin=c_min[i], vmax=c_max[i], aspect='auto',
              interpolation='bicubic', extent=(-.125, 4.125, -2.125, 2.125))
    if name in near_grids:
        ax.imshow(np.array(near_grids[name]), cmap=jet64, vmin=c_min[i], vmax=c_max[i], aspect='auto',
                  interpolation='bicubic', extent=(-.0625, 1.5625, -2.0625, .8125))
    ax.set_xlim(0, 4)
    ax.set_ylim(-2, 2)
    ax.set_xticks([2, 4])
    ax.set_yticks([-2, -1, 0, 1, 2])
    ax.tick_params(axis='x', length=0, pad=26, labelsize=41, labelcolor='#333333')
    ax.tick_params(axis='y', length=0, pad=15, labelsize=41, labelcolor='#333333')
    for s in ax.spines.values():
        s.set_linewidth(1)
        s.set_color('#8888cc')

    cax = px_axes(fig, cb_boxes[i])
    sm = ScalarMappable(norm=Normalize(c_min[i], c_max[i]), cmap=jet64)
    cb = fig.colorbar(sm, cax=cax)
    cb.set_ticks(c_ticks[i])
    cb.ax.tick_params(direction='in', length=5, width=1, color='#555555', pad=12, labelsize=38, labelcolor='#333333')
    cb.outline.set_linewidth(1)
    cb.outline.set_edgecolor('#555555')

    fig.text(z_pos[i][0] / W, 1 - z_pos[i][1] / H, 'z(m)', fontsize=42, ha='center', va='center')
    fig.text(t_pos[i][0] / W, 1 - t_pos[i][1] / H, r'$\mathit{t}$(ps)', fontsize=40, rotation=90, ha='center', va='center')
    fig.text(tag_pos[i][0] / W, 1 - tag_pos[i][1] / H, '(' + name + ')', fontsize=41,
             family='Liberation Serif', ha='center', va='center')

fig.savefig('out.png', dpi=100)
